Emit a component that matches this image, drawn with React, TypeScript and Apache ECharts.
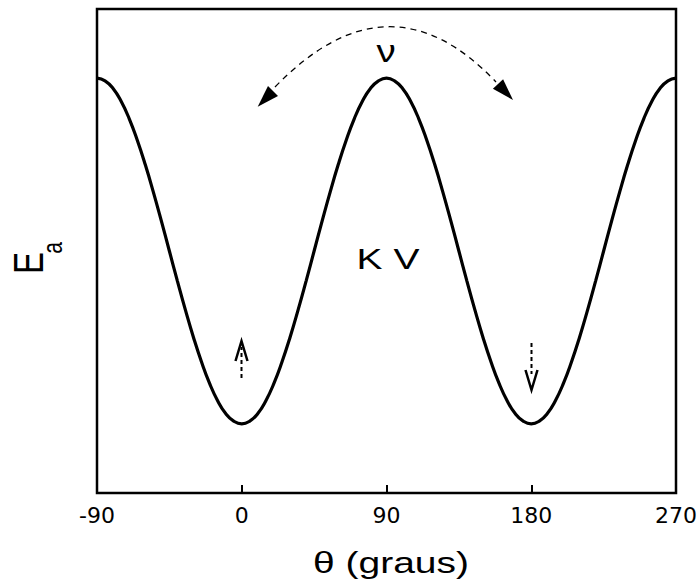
import { useEffect, useRef } from "react";
import * as echarts from "echarts";

// Angle θ (degrees) and energy E_a (arbitrary units), every 5°
const theta = [
  -90, -85, -80, -75, -70, -65, -60, -55, -50, -45, -40, -35, -30, -25, -20, -15, -10, -5,
  0, 5, 10, 15, 20, 25, 30, 35, 40, 45, 50, 55, 60, 65, 70, 75, 80, 85,
  90, 95, 100, 105, 110, 115, 120, 125, 130, 135, 140, 145, 150, 155, 160, 165, 170, 175,
  180, 185, 190, 195, 200, 205, 210, 215, 220, 225, 230, 235, 240, 245, 250, 255, 260, 265, 270,
];
const energy = [
  1.0, 0.992, 0.97, 0.933, 0.883, 0.821, 0.75, 0.671, 0.587, 0.5, 0.413, 0.329, 0.25, 0.179, 0.117, 0.067, 0.03, 0.008,
  0.0, 0.008, 0.03, 0.067, 0.117, 0.179, 0.25, 0.329, 0.413, 0.5, 0.587, 0.671, 0.75, 0.821, 0.883, 0.933, 0.97, 0.992,
  1.0, 0.992, 0.97, 0.933, 0.883, 0.821, 0.75, 0.671, 0.587, 0.5, 0.413, 0.329, 0.25, 0.179, 0.117, 0.067, 0.03, 0.008,
  0.0, 0.008, 0.03, 0.067, 0.117, 0.179, 0.25, 0.329, 0.413, 0.5, 0.587, 0.671, 0.75, 0.821, 0.883, 0.933, 0.97, 0.992, 1.0,
];
const xTickValues = [-90, 0, 90, 180, 270];
const xTickLabels = ["-90", "0", "90", "180", "270"];
const xTitle = "θ (graus)";
const yTitle = "E";
const ySub = "a";
const barrierLabel = "K V";
const freqLabel = "ν";

export default function App() {
  const ref = useRef<HTMLDivElement>(null);
  useEffect(() => {
    const chart = echarts.init(ref.current!, null, { renderer: "svg" });
    const textBase = (extra: any) => ({
      fill: "#000",
      fontFamily: "Liberation Sans, Arial, sans-serif",
      align: "center",
      verticalAlign: "middle",
      textAlign: "center",
      textVerticalAlign: "middle",
      ...extra,
    });
    chart.setOption({
      animation: false,
      backgroundColor: "#fff",
      grid: {
        left: 97,
        right: 24,
        top: 9,
        bottom: 89,
        show: true,
        borderColor: "#000",
        borderWidth: 2.5,
        backgroundColor: "transparent",
      },
      xAxis: {
        type: "value",
        min: -90,
        max: 270,
        interval: 90,
        axisLine: { show: false, onZero: false },
        axisTick: { show: true, inside: true, length: 8, lineStyle: { color: "#000", width: 2 } },
        splitLine: { show: false },
        axisLabel: {
          color: "#000",
          fontSize: 22,
          fontFamily: "DejaVu Sans, sans-serif",
          margin: 11,
          formatter: (v: number) => {
            const idx = xTickValues.indexOf(v);
            return idx >= 0 ? xTickLabels[idx] : String(v);
          },
        },
      },
      yAxis: {
        type: "value",
        min: -0.2,
        max: 1.2,
        axisLine: { show: false },
        axisTick: { show: false },
        axisLabel: { show: false },
        splitLine: { show: false },
      },
      series: [
        {
          type: "line",
          data: theta.map((t, i) => [t, energy[i]]),
          smooth: 0.5,
          symbol: "none",
          showSymbol: false,
          lineStyle: { color: "#000", width: 3.2 },
        },
      ],
      graphic: [
        // curved dashed double arrow
        {
          type: "bezierCurve",
          shape: { x1: 275, y1: 87, x2: 496, y2: 82, cpx1: 389, cpy1: -31 },
          style: { stroke: "#000", lineWidth: 1.3, lineDash: [6, 5], fill: null },
        },
        {
          type: "polygon",
          shape: { points: [[257.7, 106.8], [278, 95.9], [268, 86.1]] },
          style: { fill: "#000" },
        },
        {
          type: "polygon",
          shape: { points: [[513, 100], [503.1, 79.2], [492.9, 88.8]] },
          style: { fill: "#000" },
        },
        // small up arrow at 0
        {
          type: "line",
          shape: { x1: 241.5, y1: 378, x2: 241.5, y2: 347 },
          style: { stroke: "#000", lineWidth: 2, lineDash: [4, 3] },
        },
        {
          type: "polyline",
          shape: { points: [[235.5, 361], [241.5, 341], [247.5, 361]] },
          style: { stroke: "#000", lineWidth: 2.5, fill: null },
        },
        // small down arrow at 180
        {
          type: "line",
          shape: { x1: 531.5, y1: 343, x2: 531.5, y2: 374 },
          style: { stroke: "#000", lineWidth: 2, lineDash: [4, 3] },
        },
        {
          type: "polyline",
          shape: { points: [[525.5, 370], [531.5, 390], [537.5, 370]] },
          style: { stroke: "#000", lineWidth: 2.5, fill: null },
        },
        // texts
        {
          type: "text",
          x: 386,
          y: 51,
          scaleX: 1.2,
          style: textBase({ text: freqLabel, fontSize: 32 }),
        },
        {
          type: "text",
          x: 388,
          y: 259,
          scaleX: 1.3,
          style: textBase({ text: barrierLabel, fontSize: 30 }),
        },
        {
          type: "text",
          x: 391,
          y: 563,
          scaleX: 1.3,
          style: textBase({ text: xTitle, fontSize: 30 }),
        },
        {
          type: "text",
          x: 28,
          y: 263,
          rotation: Math.PI / 2,
          scaleY: 1.3,
          style: textBase({ text: yTitle, fontSize: 33 }),
        },
        {
          type: "text",
          x: 52,
          y: 248,
          rotation: Math.PI / 2,
          scaleY: 1.3,
          style: textBase({ text: ySub, fontSize: 21 }),
        },
      ],
    });
    return () => chart.dispose();
  }, []);
  return (
    <div
      ref={ref}
      style={{ position: "absolute", left: 0, top: 0, width: 700, height: 582 }}
    />
  );
}
